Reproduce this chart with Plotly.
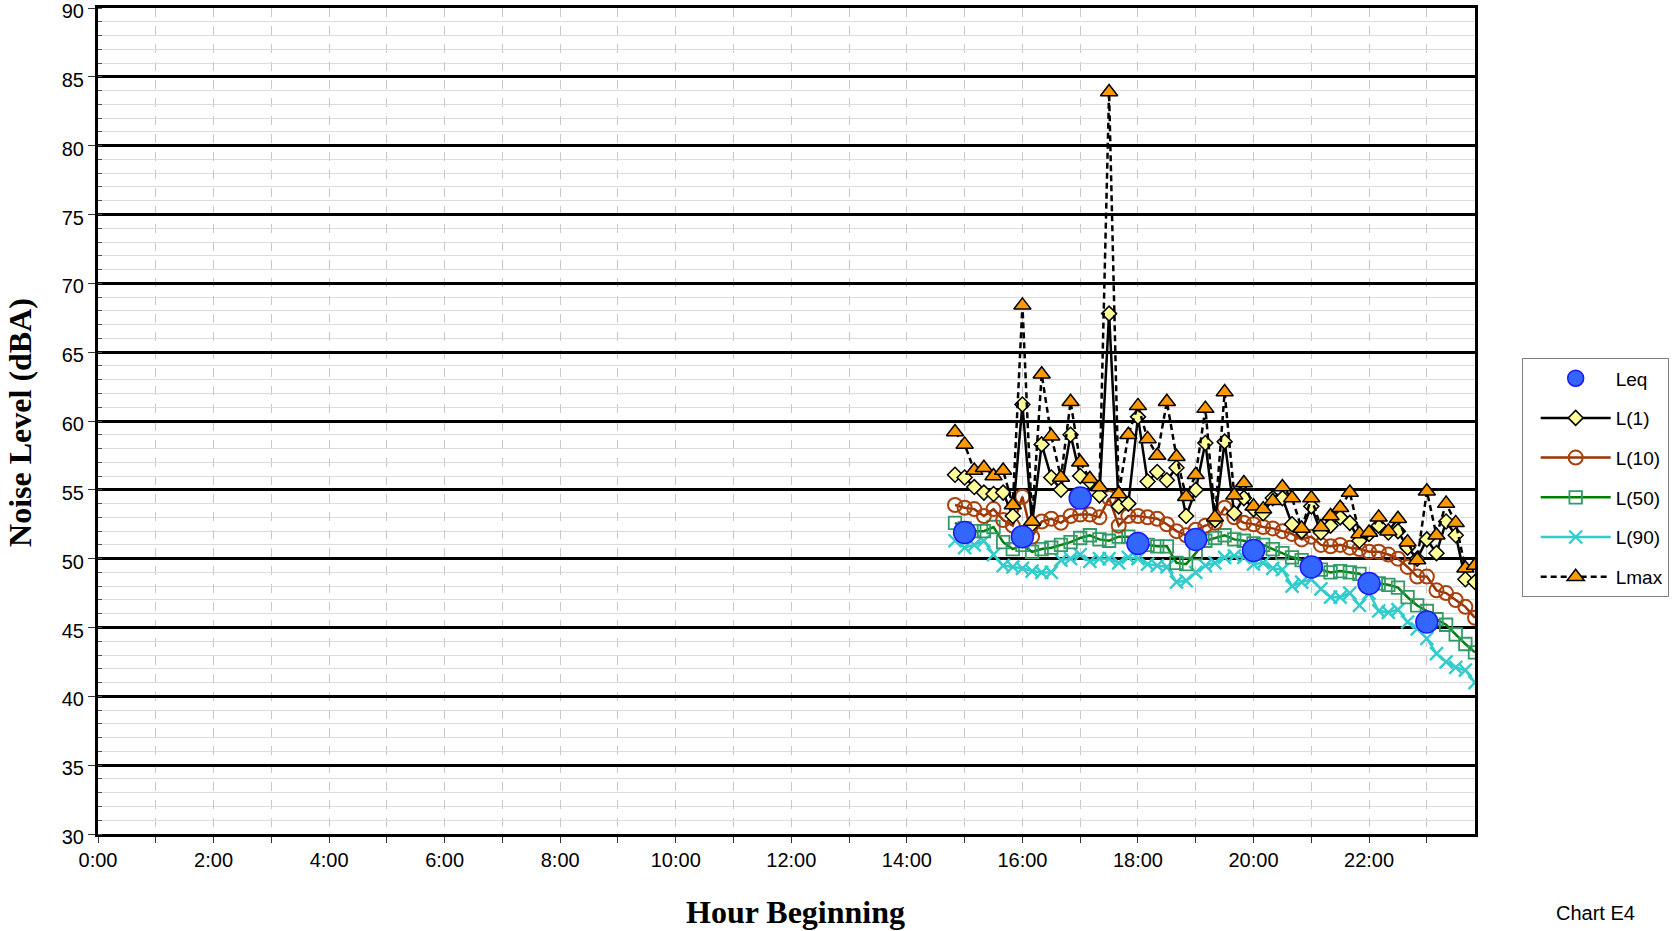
import plotly.graph_objects as go

# ---- data ----
times = ["14:50", "15:00", "15:10", "15:20", "15:30", "15:40", "15:50",
         "16:00", "16:10", "16:20", "16:30", "16:40", "16:50",
         "17:00", "17:10", "17:20", "17:30", "17:40", "17:50",
         "18:00", "18:10", "18:20", "18:30", "18:40", "18:50",
         "19:00", "19:10", "19:20", "19:30", "19:40", "19:50",
         "20:00", "20:10", "20:20", "20:30", "20:40", "20:50",
         "21:00", "21:10", "21:20", "21:30", "21:40", "21:50",
         "22:00", "22:10", "22:20", "22:30", "22:40", "22:50",
         "23:00", "23:10", "23:20", "23:30", "23:40", "23:50"]

lmax = [59.2, 58.3, 56.4, 56.6, 56.0, 56.4, 53.9,
        68.4, 52.7, 63.4, 58.9, 55.9, 61.4,
        57.0, 55.8, 55.2, 83.9, 54.7, 59.0,
        61.1, 58.7, 57.5, 61.4, 57.4, 54.5,
        56.1, 60.9, 53.0, 62.1, 54.6, 55.5,
        53.8, 53.6, 54.2, 55.2, 54.4, 52.2,
        54.4, 52.3, 53.1, 53.7, 54.8, 51.8,
        51.9, 53.0, 52.0, 52.9, 51.2, 49.9,
        54.9, 51.7, 54.0, 52.6, 49.3, 49.5]

l1 = [56.1, 55.9, 55.2, 54.8, 54.7, 54.8, 53.1,
      61.2, 52.5, 58.3, 55.9, 55.0, 59.0,
      56.0, 55.6, 54.6, 67.8, 53.8, 54.0,
      60.3, 55.6, 56.3, 55.7, 56.6, 53.1,
      55.0, 58.4, 52.8, 58.5, 53.3, 54.4,
      53.6, 53.3, 54.4, 54.4, 52.5, 52.0,
      53.8, 51.9, 52.4, 53.0, 52.6, 51.3,
      51.8, 52.4, 51.9, 52.0, 50.8, 50.0,
      51.4, 50.4, 52.7, 51.7, 48.5, 48.3]

l10 = [53.9, 53.7, 53.6, 53.1, 53.6, 52.8, 52.4,
       54.5, 51.6, 52.7, 52.9, 52.6, 53.1,
       53.2, 53.2, 53.0, 54.4, 52.4, 53.1,
       53.1, 53.0, 52.9, 52.5, 52.0, 51.7,
       52.1, 52.4, 52.6, 53.7, 53.0, 52.6,
       52.5, 52.3, 52.2, 52.0, 51.8, 51.4,
       51.6, 51.0, 50.9, 51.0, 50.8, 50.7,
       50.5, 50.5, 50.3, 50.0, 49.4, 48.7,
       48.7, 47.7, 47.5, 47.0, 46.5, 45.7]

l50 = [52.6, 52.2, 52.0, 52.0, 52.3, 51.2, 50.7,
       51.0, 50.5, 50.7, 50.8, 51.0, 51.2,
       51.5, 51.7, 51.4, 51.3, 51.6, 51.6,
       51.1, 51.0, 50.9, 50.9, 49.7, 49.6,
       50.4, 51.3, 51.5, 51.7, 51.4, 51.3,
       51.1, 51.0, 50.7, 50.4, 50.1, 49.9,
       49.6, 49.2, 49.0, 49.1, 49.0, 48.9,
       48.4, 48.2, 48.1, 47.9, 47.2, 46.6,
       46.2, 45.6, 45.2, 44.5, 43.8, 43.2]

l90 = [51.3, 50.8, 51.0, 51.3, 50.3, 49.5, 49.4,
       49.3, 49.1, 49.0, 49.0, 49.9, 50.0,
       50.3, 49.8, 50.0, 50.0, 49.7, 50.1,
       50.0, 49.6, 49.5, 49.4, 48.3, 48.4,
       49.0, 49.5, 49.7, 50.1, 50.2, 50.1,
       49.6, 49.7, 49.3, 49.2, 48.0, 48.3,
       48.5, 47.8, 47.2, 47.2, 47.5, 46.6,
       47.5, 46.2, 46.1, 46.3, 45.4, 44.9,
       44.2, 43.1, 42.5, 42.1, 41.9, 41.0]

leq_times = ["15:00", "16:00", "17:00", "18:00", "19:00", "20:00", "21:00", "22:00", "23:00"]
leq = [51.9, 51.6, 54.4, 51.1, 51.4, 50.6, 49.4, 48.2, 45.4]

DAY = "2000-01-01 "
x_all = [DAY + t for t in times]
x_leq = [DAY + t for t in leq_times]

FONT = "Arial, Liberation Sans, sans-serif"
SERIF = "Times New Roman, Liberation Serif, serif"

fig = go.Figure()

fig.add_trace(go.Scatter(
    x=x_all, y=l90, name="L(90)", mode="lines+markers", legendrank=5, legendgroup="g5",
    line=dict(color="#33cccc", width=2.5),
    marker=dict(symbol="x-thin-open", size=13, color="#33cccc",
                line=dict(color="#33cccc", width=2.4))))
fig.add_trace(go.Scatter(
    x=x_all, y=l50, name="L(50)", mode="lines+markers", legendrank=4, legendgroup="g4",
    line=dict(color="#008000", width=2.5),
    marker=dict(symbol="square-open", size=12.5, color="#339966",
                line=dict(color="#339966", width=1.8))))
fig.add_trace(go.Scatter(
    x=x_all, y=l10, name="L(10)", mode="lines+markers", legendrank=3, legendgroup="g3",
    line=dict(color="#993300", width=2.5),
    marker=dict(symbol="circle-open", size=14, color="#a8410c",
                line=dict(color="#a8410c", width=2))))
fig.add_trace(go.Scatter(
    x=x_all, y=l1, name="L(1)", mode="lines+markers", legendrank=2, legendgroup="g2",
    line=dict(color="black", width=2.5),
    marker=dict(symbol="diamond", size=11.5, color="#ffff99",
                line=dict(color="black", width=1.5))))
fig.add_trace(go.Scatter(
    x=x_all, y=lmax, name="Lmax", mode="lines+markers", legendrank=6, legendgroup="g6",
    line=dict(color="black", width=2.5, dash="6px,4px"),
    marker=dict(symbol="triangle-up", size=15, color="#ff9900",
                line=dict(color="black", width=1.5))))
fig.add_trace(go.Scatter(
    x=x_leq, y=leq, name="Leq", mode="markers", legendrank=1, legendgroup="g1",
    marker=dict(symbol="circle", size=22, color="#3366ff",
                line=dict(color="#1a1aff", width=1.5))))

fig.update_layout(
    width=1679, height=931,
    paper_bgcolor="white", plot_bgcolor="white",
    margin=dict(l=98, r=204, t=8, b=97, autoexpand=False),
    font=dict(family=FONT, size=20, color="black"),
    showlegend=True,
    legend=dict(
        xref="container", yref="container",
        x=0.9063, y=0.6151, xanchor="left", yanchor="top",
        bgcolor="white", bordercolor="#808080", borderwidth=1,
        font=dict(family=FONT, size=19, color="black"),
        tracegroupgap=12, itemwidth=70, indentation=13,
    ),
    xaxis=dict(
        type="date", automargin=False,
        range=[DAY + "00:00", DAY + "23:50"],
        tickformat="%-H:%M",
        dtick=2 * 3600 * 1000, tick0=DAY + "00:00",
        showgrid=True, gridcolor="#c8c8c8", gridwidth=1, griddash="dash",
        ticks="outside", ticklen=6, tickwidth=1.2, tickcolor="#333333",
        minor=dict(dtick=3600 * 1000, showgrid=True, gridcolor="#c8c8c8",
                   gridwidth=1, griddash="dash",
                   ticks="outside", ticklen=6, tickwidth=1.2, tickcolor="#333333"),
        showline=True, linecolor="black", linewidth=3, mirror=True,
        tickfont=dict(family=FONT, size=20),
        ticklabeloverflow="allow",
        zeroline=False,
    ),
    yaxis=dict(
        range=[30, 90], dtick=5, tick0=30, automargin=False,
        showgrid=True, gridcolor="black", gridwidth=2.5,
        ticks="outside", ticklen=7, tickwidth=1.2, tickcolor="#333333",
        minor=dict(dtick=1, showgrid=True, gridcolor="#dcdcdc", gridwidth=1.3,
                   ticks="inside", ticklen=4, tickwidth=1, tickcolor="#555555"),
        showline=True, linecolor="black", linewidth=3, mirror=True,
        tickfont=dict(family=FONT, size=20),
        ticklabeloverflow="allow", ticklabelshift=3,
        zeroline=False,
    ),
    annotations=[
        dict(text="<b>Hour Beginning</b>", xref="paper", yref="paper",
             x=0.5068, y=0, xanchor="center", yanchor="middle", yshift=-78,
             showarrow=False, font=dict(family=SERIF, size=32, color="black")),
        dict(text="<b>Noise Level (dBA)</b>", xref="paper", yref="paper",
             x=0, y=0.4977, xanchor="center", yanchor="middle", xshift=-78,
             textangle=-90, showarrow=False,
             font=dict(family=SERIF, size=32, color="black")),
        dict(text="Chart E4", xref="paper", yref="paper",
             x=1.0875, y=0, xanchor="center", yanchor="middle", yshift=-79,
             showarrow=False, font=dict(family=FONT, size=20, color="black")),
    ],
)

fig.write_html("out.html", config={"displayModeBar": False},
               post_script="document.body.style.margin='0';document.body.style.overflow='hidden';")
